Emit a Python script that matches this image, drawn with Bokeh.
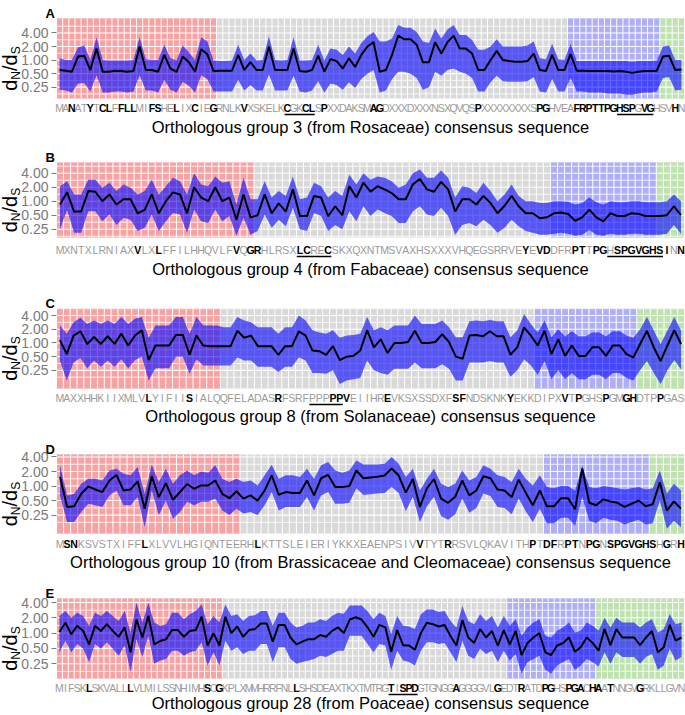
import math
from bokeh.plotting import figure
from bokeh.models import Range1d, FixedTicker, LogAxis, CustomJSTickFormatter
from bokeh.layouts import column
from bokeh.core.properties import value
from bokeh.embed import file_html
from bokeh.resources import INLINE

# ---------------- data ----------------
MAJOR_TICKS = [0.25, 0.5, 1.0, 2.0, 4.0]
MINOR_TICKS = [0.177, 0.354, 0.707, 1.414, 2.828, 5.657]

# Panel A
TITLE_A = "Orthologous group 3 (from Rosaceae) consensus sequence"
SEQ_A = "MANATYTCLFFLLMIFSHELIXCIEGRNLKVXSKELKCGKCLSPXXDAKSMAGDXXXDXXXNSXQVQSPXXXXXXXXSPGHVEAFRPTTPGHSPGVGHSVHN"
BOLD_A = [2, 5, 7, 8, 10, 11, 12, 15, 16, 19, 22, 25, 30, 37, 40, 41, 43, 51, 52, 68, 78, 79,
          84, 85, 86, 87, 88, 89, 90, 91, 92, 93, 95, 96, 100]
UNDER_A = [(37, 41), (91, 96)]
RED_A, BLUE_A, GREEN_A = (0, 25), (83, 97), (98, 101)
MID_A = [0.60, 0.58, 0.55, 1.20, 1.25, 0.60, 1.80, 0.55, 0.55, 0.58,
         0.57, 0.55, 0.57, 2.00, 0.60, 0.60, 0.55, 1.30, 0.65, 0.55,
         1.20, 0.90, 0.55, 1.75, 1.35, 0.57, 0.58, 0.58, 0.58, 1.30,
         0.60, 0.90, 0.60, 0.60, 2.00, 0.60, 0.60, 0.60, 1.80, 0.57,
         0.55, 0.60, 1.25, 0.55, 1.05, 0.95, 0.65, 1.10, 0.70, 1.30,
         2.00, 2.50, 0.55, 0.60, 1.30, 3.50, 2.90, 2.90, 2.20, 0.90,
         0.90, 2.50, 1.40, 2.50, 3.50, 1.80, 1.80, 1.40, 0.60, 0.60,
         1.00, 1.60, 1.00, 0.95, 0.92, 0.92, 0.95, 1.40, 0.60, 0.57,
         1.30, 0.60, 0.60, 1.35, 0.58, 0.58, 0.57, 0.57, 0.57, 0.57,
         0.56, 0.57, 0.55, 0.52, 0.55, 0.57, 0.57, 0.58, 1.20, 1.25,
         0.60, 0.62]
HI_A = [1.10, 1.00, 1.00, 1.90, 2.10, 1.00, 3.20, 1.00, 0.98, 0.98,
        0.98, 0.98, 1.00, 3.20, 1.05, 1.00, 1.00, 2.20, 1.10, 1.00,
        2.10, 1.50, 1.00, 3.20, 2.60, 0.98, 0.95, 0.95, 0.98, 2.20,
        1.00, 1.40, 0.98, 1.00, 3.40, 1.00, 0.98, 1.00, 3.20, 0.98,
        0.98, 1.00, 2.20, 0.98, 1.80, 1.70, 1.30, 2.00, 1.40, 2.40,
        3.40, 4.20, 2.60, 2.60, 3.00, 6.00, 5.20, 5.20, 4.20, 2.60,
        2.40, 5.00, 3.00, 4.80, 6.00, 3.60, 3.60, 2.80, 1.70, 1.70,
        2.00, 2.90, 2.00, 2.00, 2.00, 2.00, 2.10, 2.60, 1.10, 1.05,
        2.30, 1.05, 1.00, 2.30, 0.95, 0.95, 0.95, 0.95, 0.95, 0.95,
        0.95, 0.95, 0.95, 0.92, 0.95, 0.95, 0.95, 0.98, 2.00, 2.10,
        1.00, 1.00]
LO_A = [0.22, 0.21, 0.19, 0.30, 0.31, 0.20, 0.46, 0.19, 0.19, 0.20,
        0.20, 0.19, 0.20, 0.46, 0.21, 0.21, 0.19, 0.36, 0.22, 0.19,
        0.33, 0.27, 0.19, 0.46, 0.38, 0.20, 0.20, 0.20, 0.20, 0.36,
        0.21, 0.28, 0.21, 0.21, 0.48, 0.21, 0.21, 0.21, 0.45, 0.20,
        0.19, 0.21, 0.34, 0.19, 0.30, 0.28, 0.22, 0.32, 0.24, 0.38,
        0.50, 0.60, 0.19, 0.21, 0.38, 0.55, 0.55, 0.50, 0.40, 0.22,
        0.25, 0.55, 0.45, 0.60, 0.65, 0.55, 0.50, 0.40, 0.20, 0.20,
        0.32, 0.45, 0.34, 0.33, 0.33, 0.33, 0.34, 0.42, 0.20, 0.19,
        0.38, 0.20, 0.20, 0.40, 0.20, 0.20, 0.19, 0.19, 0.19, 0.18,
        0.18, 0.18, 0.17, 0.17, 0.18, 0.19, 0.19, 0.20, 0.40, 0.42,
        0.21, 0.22]

# Panel B
TITLE_B = "Orthologous group 4 (from Fabaceae) consensus sequence"
SEQ_B = "MXNTXLRNIAXVLXLFFILHHQVLFVQGRHLRSXLCRECSKXQXNTMSVAXHSXXXVHQEGSRRVEYEVDDFRPTTPGHSPGVGHSINN"
BOLD_B = [11, 14, 25, 27, 28, 34, 35, 38, 66, 68, 69, 73, 74, 76, 77, 79, 80, 81, 82, 83, 84,
          85, 86, 88]
UNDER_B = [(34, 38), (78, 85)]
RED_B, BLUE_B, GREEN_B = (0, 27), (70, 84), (85, 88)
MID_B = [0.85, 1.55, 0.60, 0.60, 1.65, 1.60, 1.00, 1.40, 0.85, 1.10,
         1.10, 0.55, 0.65, 1.40, 0.55, 1.00, 1.55, 1.40, 0.55, 2.00,
         1.20, 1.00, 2.00, 1.00, 1.20, 0.40, 1.40, 0.45, 0.50, 1.40,
         0.55, 0.90, 0.60, 1.80, 0.48, 0.48, 1.30, 1.20, 0.48, 0.78,
         0.50, 2.10, 1.20, 2.50, 1.60, 2.10, 1.80, 1.50, 1.10, 1.10,
         2.30, 3.00, 1.80, 1.60, 2.60, 1.80, 0.60, 1.10, 1.10, 0.85,
         1.30, 0.92, 0.55, 0.80, 1.30, 0.78, 0.55, 0.55, 0.43, 0.45,
         0.55, 0.57, 0.53, 0.38, 0.45, 0.66, 0.45, 0.37, 0.55, 0.48,
         0.48, 0.55, 0.53, 0.48, 0.48, 0.48, 0.50, 0.78, 0.50]
HI_B = [2.10, 2.70, 1.40, 1.40, 2.90, 2.90, 1.95, 2.50, 1.65, 2.30,
        1.95, 1.40, 1.65, 2.90, 1.40, 2.10, 3.20, 2.70, 1.40, 4.00,
        2.30, 2.10, 3.40, 2.50, 2.70, 0.85, 3.20, 1.10, 1.10, 2.70,
        1.20, 1.65, 1.30, 3.40, 1.10, 1.20, 2.50, 2.10, 1.20, 1.65,
        1.30, 3.70, 2.30, 4.00, 2.90, 3.40, 3.20, 2.70, 1.95, 2.30,
        4.00, 4.80, 3.20, 3.20, 4.60, 3.20, 1.20, 2.10, 1.95, 1.50,
        2.50, 1.65, 1.00, 1.40, 2.30, 1.30, 1.00, 1.00, 0.92, 0.92,
        1.00, 1.00, 0.98, 0.85, 0.92, 1.20, 0.95, 0.85, 1.00, 0.95,
        0.95, 1.00, 1.00, 0.95, 0.95, 0.95, 1.00, 1.40, 1.00]
LO_B = [0.25, 0.65, 0.21, 0.21, 0.61, 0.61, 0.37, 0.52, 0.31, 0.44,
        0.40, 0.23, 0.27, 0.52, 0.23, 0.37, 0.56, 0.52, 0.21, 0.66,
        0.37, 0.34, 0.66, 0.37, 0.48, 0.18, 0.44, 0.19, 0.23, 0.52,
        0.27, 0.40, 0.29, 0.72, 0.25, 0.23, 0.56, 0.48, 0.23, 0.31,
        0.25, 0.61, 0.37, 0.78, 0.48, 0.66, 0.56, 0.48, 0.34, 0.34,
        0.61, 0.78, 0.52, 0.48, 0.72, 0.48, 0.19, 0.31, 0.34, 0.29,
        0.40, 0.31, 0.21, 0.27, 0.40, 0.29, 0.23, 0.21, 0.19, 0.19,
        0.20, 0.21, 0.20, 0.18, 0.19, 0.24, 0.19, 0.18, 0.20, 0.19,
        0.19, 0.20, 0.20, 0.19, 0.19, 0.19, 0.20, 0.31, 0.20]

# Panel C
TITLE_C = "Orthologous group 8 (from Solanaceae) consensus sequence"
SEQ_C = "MAXXHHKIIXMLVLYIFIISIALQQFELADASRFSRFPPPPPVEIIHREVKSXSSDXFSFNDSKNKYEKKDIPXVTPGHSPGMGHDTPPGAS"
BOLD_C = [13, 19, 32, 40, 41, 42, 48, 58, 59, 66, 74, 76, 80, 83, 84, 88]
UNDER_C = [(37, 41)]
RED_C, BLUE_C, GREEN_C = (0, 23), (70, 84), (85, 91)
MID_C = [1.15, 0.57, 1.45, 1.80, 0.95, 1.35, 0.95, 1.40, 0.95, 1.60,
         0.88, 1.45, 1.90, 0.42, 0.88, 0.88, 0.88, 1.50, 1.50, 0.55,
         1.45, 0.88, 0.85, 0.85, 0.85, 0.85, 1.85, 1.30, 1.45, 0.85,
         0.85, 0.85, 0.55, 0.85, 0.85, 1.80, 1.45, 0.68, 0.66, 0.55,
         0.85, 0.42, 0.50, 0.52, 0.68, 1.90, 0.80, 1.20, 0.60, 1.00,
         1.00, 1.05, 1.85, 1.00, 1.00, 1.05, 1.55, 1.05, 0.50, 0.45,
         1.45, 1.50, 1.40, 1.80, 1.40, 1.40, 0.55, 0.80, 2.20, 1.45,
         0.88, 1.85, 0.57, 1.20, 0.52, 0.88, 0.52, 0.52, 0.80, 0.80,
         0.52, 0.88, 0.88, 0.57, 0.48, 0.95, 1.85, 0.80, 0.40, 0.88,
         1.90, 0.95]
HI_C = [2.40, 1.60, 2.85, 3.55, 2.60, 3.10, 2.60, 3.10, 2.60, 3.70,
        2.60, 3.40, 3.70, 1.30, 2.40, 2.40, 2.40, 3.70, 3.70, 1.60,
        3.70, 2.40, 2.40, 2.40, 2.20, 2.20, 3.70, 3.10, 2.85, 2.20,
        2.20, 2.20, 1.60, 2.20, 2.20, 4.00, 3.10, 1.90, 1.70, 1.60,
        1.90, 1.30, 1.45, 1.50, 1.60, 3.70, 1.90, 2.20, 1.90, 2.40,
        2.40, 2.40, 4.00, 2.60, 2.60, 2.60, 3.10, 2.20, 1.33, 1.33,
        3.00, 3.10, 3.00, 3.20, 3.00, 3.00, 1.33, 1.87, 4.30, 2.60,
        1.70, 3.10, 1.33, 2.00, 1.40, 1.80, 1.40, 1.40, 1.70, 1.70,
        1.40, 1.80, 1.80, 1.45, 1.30, 2.00, 3.70, 1.87, 0.95, 1.87,
        3.70, 1.87]
LO_C = [0.41, 0.15, 0.37, 0.47, 0.28, 0.41, 0.30, 0.41, 0.30, 0.44,
        0.28, 0.42, 0.50, 0.15, 0.28, 0.28, 0.28, 0.50, 0.50, 0.21,
        0.44, 0.32, 0.32, 0.32, 0.32, 0.32, 0.48, 0.41, 0.41, 0.30,
        0.30, 0.30, 0.23, 0.30, 0.30, 0.48, 0.41, 0.22, 0.22, 0.21,
        0.25, 0.125, 0.15, 0.16, 0.17, 0.41, 0.25, 0.22, 0.20, 0.27,
        0.27, 0.27, 0.37, 0.28, 0.28, 0.28, 0.34, 0.27, 0.15, 0.15,
        0.37, 0.37, 0.37, 0.40, 0.37, 0.37, 0.18, 0.25, 0.44, 0.32,
        0.20, 0.40, 0.16, 0.25, 0.16, 0.22, 0.16, 0.16, 0.20, 0.20,
        0.16, 0.22, 0.22, 0.17, 0.15, 0.25, 0.40, 0.22, 0.125, 0.25,
        0.42, 0.26]

# Panel D
TITLE_D = "Orthologous group 10 (from Brassicaceae and Cleomaceae) consensus sequence"
SEQ_D = "MSNKSVSTXIFFLXLVVLHGIQNTEERHLKTTSLEIERIYKKXEAENPSIVVTYTRRSVLQKAVITHPTDFRPTNPGNSPGVGHSHGRH"
BOLD_D = [1, 2, 12, 28, 51, 55, 67, 69, 70, 72, 73, 75, 76, 78, 79, 80, 81, 82, 83, 84, 86, 88]
UNDER_D = []
RED_D, BLUE_D, GREEN_D = (0, 25), (69, 83), (84, 88)
MID_D = [1.55, 0.37, 0.38, 0.69, 0.98, 0.85, 0.75, 1.30, 1.70, 0.81,
         0.85, 1.25, 0.34, 1.60, 0.59, 1.15, 0.52, 0.75, 1.10, 0.88,
         1.03, 1.03, 1.30, 0.69, 0.56, 0.78, 0.55, 0.64, 0.50, 0.81,
         1.66, 0.66, 0.75, 0.72, 0.72, 1.30, 0.64, 1.45, 1.70, 0.95,
         0.95, 1.00, 2.10, 1.45, 1.50, 1.55, 1.65, 2.30, 1.65, 0.73,
         1.40, 0.37, 0.90, 1.40, 0.55, 0.45, 0.60, 1.30, 0.64, 0.81,
         1.60, 1.45, 0.85, 0.81, 0.59, 1.35, 0.73, 0.40, 0.81, 0.38,
         0.38, 0.56, 0.56, 0.33, 2.30, 0.45, 0.40, 0.53, 0.48, 0.45,
         0.37, 0.43, 0.50, 0.38, 0.42, 1.20, 0.31, 0.48, 0.34]
HI_D = [2.70, 0.64, 0.69, 1.12, 1.42, 1.42, 1.31, 2.11, 2.29, 1.80,
        1.67, 2.48, 0.69, 2.77, 1.21, 2.29, 1.12, 1.67, 2.11, 1.67,
        2.01, 1.89, 2.69, 1.42, 1.21, 1.42, 1.21, 1.31, 1.03, 1.67,
        2.77, 1.42, 1.67, 1.67, 1.54, 2.29, 1.42, 2.69, 3.15, 2.11,
        1.89, 2.10, 3.40, 2.80, 2.80, 2.80, 2.90, 4.00, 2.90, 1.54,
        2.29, 0.81, 1.42, 2.29, 1.12, 0.95, 1.12, 2.11, 1.31, 1.54,
        2.69, 2.29, 1.67, 1.54, 1.21, 2.29, 1.42, 1.03, 1.67, 0.95,
        0.90, 1.00, 1.00, 0.80, 2.60, 0.95, 0.90, 1.00, 0.95, 0.90,
        0.85, 0.90, 0.95, 0.85, 0.90, 2.10, 0.70, 1.12, 0.81]
LO_D = [0.64, 0.18, 0.18, 0.29, 0.43, 0.40, 0.37, 0.64, 0.81, 0.40,
        0.40, 0.59, 0.14, 0.81, 0.25, 0.50, 0.21, 0.29, 0.47, 0.40,
        0.47, 0.47, 0.55, 0.31, 0.25, 0.34, 0.27, 0.29, 0.25, 0.40,
        0.75, 0.31, 0.37, 0.37, 0.37, 0.59, 0.31, 0.64, 0.75, 0.43,
        0.43, 0.45, 0.90, 0.65, 0.68, 0.70, 0.72, 0.95, 0.72, 0.30,
        0.60, 0.18, 0.38, 0.60, 0.24, 0.20, 0.26, 0.55, 0.28, 0.35,
        0.70, 0.62, 0.37, 0.35, 0.26, 0.55, 0.30, 0.18, 0.34, 0.17,
        0.17, 0.22, 0.22, 0.15, 0.60, 0.19, 0.17, 0.22, 0.20, 0.19,
        0.16, 0.18, 0.20, 0.16, 0.17, 0.50, 0.13, 0.19, 0.14]

# Panel E
TITLE_E = "Orthologous group 28 (from Poaceae) consensus sequence"
SEQ_E = "MIFSKLSKVALLLVLMILSSNHIMHSCGKPLXMMHRRFNLLSHSDEAXTKXTMTRGTISPDGTGNGGAGGGGVLGEDTRATDPGHSPGACHAATNNGVGRKLLGVN"
BOLD_E = [5, 12, 25, 27, 40, 56, 58, 59, 60, 67, 74, 78, 82, 83, 86, 87, 88, 90, 91, 93, 98]
UNDER_E = [(56, 60)]
RED_E, BLUE_E, GREEN_E = (0, 27), (76, 90), (91, 105)
MID_E = [1.05, 1.60, 0.95, 1.40, 1.10, 0.60, 1.40, 1.10, 1.50, 1.10,
         0.85, 1.30, 0.42, 1.85, 0.82, 2.20, 0.60, 0.70, 0.76, 1.15,
         1.15, 0.85, 1.10, 1.15, 2.10, 0.57, 1.00, 0.57, 2.10, 1.00,
         1.35, 0.85, 1.15, 1.20, 1.55, 1.55, 0.68, 1.45, 1.45, 0.82,
         0.60, 0.68, 0.76, 0.76, 0.92, 0.85, 1.10, 1.30, 1.00, 1.85,
         2.05, 1.85, 1.30, 0.85, 1.45, 1.30, 0.43, 1.15, 0.58, 0.57,
         0.47, 1.00, 1.60, 1.50, 1.35, 1.45, 0.88, 0.57, 1.80, 0.82,
         0.64, 1.20, 0.82, 1.10, 0.57, 1.15, 0.60, 1.10, 0.37, 0.64,
         0.82, 1.00, 0.42, 0.37, 0.57, 0.64, 0.82, 0.43, 0.53, 0.82,
         0.64, 0.45, 1.20, 0.58, 1.20, 0.82, 0.82, 0.82, 0.58, 0.82,
         1.10, 0.42, 0.53, 1.45, 0.71, 0.82]
HI_E = [2.17, 2.71, 2.00, 2.52, 2.17, 1.39, 2.52, 2.17, 2.71, 2.17,
        1.74, 2.71, 1.03, 3.95, 1.61, 3.95, 1.61, 1.39, 1.50, 2.52,
        2.52, 1.87, 2.34, 2.71, 3.65, 1.50, 2.17, 1.61, 3.65, 2.17,
        2.34, 1.74, 2.17, 2.24, 2.71, 2.71, 1.39, 2.52, 2.52, 1.61,
        1.29, 1.39, 1.61, 1.61, 1.87, 1.74, 2.17, 2.52, 2.40, 3.50,
        3.50, 3.50, 2.70, 1.87, 2.52, 2.17, 0.96, 2.17, 1.39, 1.35,
        1.20, 2.34, 2.93, 2.93, 2.60, 2.71, 1.74, 1.29, 3.40, 1.74,
        1.50, 2.34, 1.74, 2.17, 1.29, 2.17, 1.39, 1.87, 0.89, 1.29,
        1.61, 1.87, 0.89, 0.82, 1.11, 1.29, 1.61, 1.03, 1.11, 1.61,
        1.39, 1.11, 2.00, 1.29, 2.00, 1.61, 1.61, 1.61, 1.29, 1.61,
        1.87, 1.03, 1.20, 2.34, 1.50, 1.61]
LO_E = [0.42, 0.71, 0.42, 0.61, 0.49, 0.27, 0.61, 0.49, 0.66, 0.49,
        0.36, 0.57, 0.17, 0.76, 0.34, 0.89, 0.25, 0.29, 0.31, 0.45,
        0.45, 0.36, 0.42, 0.45, 0.66, 0.23, 0.42, 0.23, 0.71, 0.45,
        0.53, 0.39, 0.45, 0.45, 0.61, 0.61, 0.27, 0.53, 0.53, 0.31,
        0.25, 0.27, 0.29, 0.31, 0.36, 0.34, 0.39, 0.45, 0.45, 0.89,
        0.89, 0.89, 0.61, 0.42, 0.61, 0.57, 0.19, 0.45, 0.29, 0.27,
        0.23, 0.45, 0.66, 0.66, 0.61, 0.64, 0.42, 0.27, 0.71, 0.36,
        0.31, 0.49, 0.39, 0.45, 0.27, 0.45, 0.29, 0.39, 0.16, 0.27,
        0.31, 0.36, 0.19, 0.16, 0.23, 0.27, 0.31, 0.19, 0.23, 0.31,
        0.27, 0.22, 0.42, 0.25, 0.42, 0.34, 0.34, 0.34, 0.25, 0.34,
        0.39, 0.19, 0.23, 0.49, 0.29, 0.34]

# ---------------- styling / layout ----------------
FONT = "Liberation Sans"
COL_RED, COL_GREY, COL_BLUE, COL_GREEN = "#F7A3A3", "#D9D9D9", "#AFAFF7", "#BEE3AE"
FIG_W = 685
TILE_L, TILE_R = 56, 684      # pixel extent of the tile area
TICK_COL = "#7a7a7a"


def make_panel(letter, seq, bold, underlines, red, blue, green, mid, lo, hi, title,
               ylim, fig_h, top, frame_h, let_off, title_off):
    n = len(mid)
    xs = list(range(n))
    ylo, yhi = ylim
    tw = (TILE_R - TILE_L) / n                    # px per position
    ppd = frame_h / math.log2(yhi / ylo)          # px per doubling
    bottom = top + frame_h

    def X(px):
        return -0.5 + (px - TILE_L) / tw

    def Y(py):
        return ylo * 2 ** ((bottom - py) / ppd)

    p = figure(width=FIG_W, height=fig_h,
               x_range=Range1d(X(0), X(FIG_W)), y_range=Range1d(Y(fig_h), Y(0)),
               y_axis_type="log", x_axis_location=None, y_axis_location=None,
               output_backend="svg", toolbar_location=None, tools="",
               min_border_left=0, min_border_right=0, min_border_top=0, min_border_bottom=0)
    p.outline_line_color = None
    p.background_fill_color = "white"
    p.border_fill_color = "white"
    p.xgrid.visible = False
    p.ygrid.visible = False

    # background tiles
    p.quad(left=[-0.5], right=[n - 0.5], bottom=[ylo], top=[yhi],
           fill_color=COL_GREY, line_color=None, level="image")
    for (a, b), col in ((red, COL_RED), (blue, COL_BLUE), (green, COL_GREEN)):
        p.quad(left=[a - 0.5], right=[b + 0.5], bottom=[ylo], top=[yhi],
               fill_color=col, line_color=None, level="image")

    # white grid lines
    vx = [i + 0.5 for i in range(-1, n)]
    p.segment(x0=vx, x1=vx, y0=[ylo] * len(vx), y1=[yhi] * len(vx),
              line_color="white", line_width=1, level="underlay")
    hmaj = [v for v in MAJOR_TICKS if ylo < v < yhi]
    hmin = [v for v in MINOR_TICKS if ylo < v < yhi]
    p.segment(x0=[-0.5] * len(hmaj), x1=[n - 0.5] * len(hmaj), y0=hmaj, y1=hmaj,
              line_color="white", line_width=1.1, level="underlay")
    p.segment(x0=[-0.5] * len(hmin), x1=[n - 0.5] * len(hmin), y0=hmin, y1=hmin,
              line_color="white", line_width=0.8, level="underlay")

    # ribbon + line
    p.varea(x=xs, y1=lo, y2=hi, fill_color="#0000FF", fill_alpha=0.6)
    p.line(xs, mid, line_color="black", line_width=2)

    # y axis drawn at the tile edge
    ya = LogAxis(ticker=FixedTicker(ticks=MAJOR_TICKS),
                 formatter=CustomJSTickFormatter(code="return tick.toFixed(2);"),
                 fixed_location=-0.5)
    ya.axis_line_color = None
    ya.major_tick_line_color = TICK_COL
    ya.major_tick_out = 5
    ya.major_tick_in = 0
    ya.minor_tick_line_color = None
    ya.major_label_standoff = 3
    ya.major_label_text_font = FONT
    ya.major_label_text_font_size = "14px"
    ya.major_label_text_color = TICK_COL
    p.add_layout(ya, "left")

    # sequence letters
    y_let = Y(bottom + let_off)
    bset = set(bold)
    g_idx = [i for i in range(len(seq)) if i not in bset]
    b_idx = [i for i in range(len(seq)) if i in bset]
    for idx, colr, style in ((g_idx, "#9a9a9a", "normal"), (b_idx, "black", "bold")):
        p.text(x=idx, y=[y_let] * len(idx), text=[seq[i] for i in idx],
               text_align=value("center"), text_baseline=value("middle"),
               text_font=value(FONT), text_font_size=value("10.5px"),
               text_font_style=value(style), text_color=colr)
    y_ul = Y(bottom + let_off + 7)
    if underlines:
        p.segment(x0=[s - 0.45 for s, e in underlines], x1=[e + 0.45 for s, e in underlines],
                  y0=[y_ul] * len(underlines), y1=[y_ul] * len(underlines),
                  line_color="black", line_width=1.4)

    # title below
    p.text(x=[(n - 1) / 2], y=[Y(bottom + title_off)], text=[title],
           text_align=value("center"), text_baseline=value("middle"),
           text_font=value(FONT), text_font_size=value("16.5px"), text_color="black")

    # panel letter
    p.text(x=[X(45)], y=[Y(top - 5)], text=[letter],
           text_align=value("left"), text_baseline=value("alphabetic"),
           text_font=value(FONT), text_font_size=value("13px"),
           text_font_style=value("bold"), text_color="black")

    # y label d_N / d_S, rotated (reads bottom to top)
    pc = top + frame_h / 2 + 10
    pieces = [("d", "20px", 9.5, pc + 22.25), ("N", "12px", 15.0, pc + 11.15),
              ("/d", "20px", 9.5, pc + 2.45), ("S", "12px", 15.0, pc - 14.25)]
    for txt, fs, px, py in pieces:
        p.text(x=[X(px)], y=[Y(py)], text=[txt], angle=90, angle_units="deg",
               text_align=value("left"), text_baseline=value("middle"),
               text_font=value(FONT), text_font_size=value(fs), text_color="black")
    return p


pA = make_panel("A", SEQ_A, BOLD_A, UNDER_A, RED_A, BLUE_A, GREEN_A, MID_A, LO_A, HI_A,
                TITLE_A, (0.14, 8.4), 142, 18, 80, 9, 28)
pB = make_panel("B", SEQ_B, BOLD_B, UNDER_B, RED_B, BLUE_B, GREEN_B, MID_B, LO_B, HI_B,
                TITLE_B, (0.166, 6.8), 145, 20, 75, 12, 31)
pC = make_panel("C", SEQ_C, BOLD_C, UNDER_C, RED_C, BLUE_C, GREEN_C, MID_C, LO_C, HI_C,
                TITLE_C, (0.10, 5.7), 141, 21, 80, 9, 27)
pD = make_panel("D", SEQ_D, BOLD_D, UNDER_D, RED_D, BLUE_D, GREEN_D, MID_D, LO_D, HI_D,
                TITLE_D, (0.104, 4.5), 144, 26, 79, 10, 28)
pE = make_panel("E", SEQ_E, BOLD_E, UNDER_E, RED_E, BLUE_E, GREEN_E, MID_E, LO_E, HI_E,
                TITLE_E, (0.128, 4.8), 142, 26, 80, 9, 24)

layout = column(pA, pB, pC, pD, pE, spacing=0)
open("out.html", "w").write(file_html(layout, INLINE))
